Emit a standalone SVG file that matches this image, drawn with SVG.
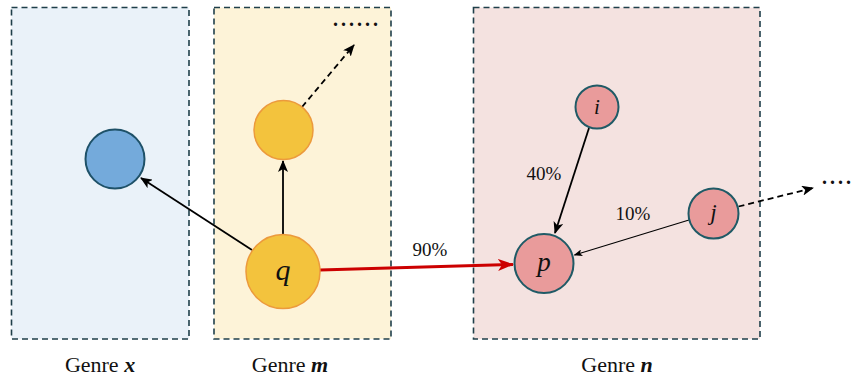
<svg xmlns="http://www.w3.org/2000/svg" width="856" height="379" viewBox="0 0 856 379">
<style>
.box{stroke:#1f3f4a;stroke-width:1.6;stroke-dasharray:6 4}
.t{font-family:"Liberation Serif","DejaVu Serif",serif;fill:#111}
.lab{font-size:22px;text-anchor:middle}
.pct{font-size:19px;text-anchor:middle}
.var{font-style:italic;text-anchor:middle}
.yel{fill:#f3c33d;stroke:#ec9a3c;stroke-width:1.5}
.pink{fill:#e99b9b;stroke:#1f5a66;stroke-width:2}
.c{stroke:#000;fill:none;stroke-width:1.8}
.dots{font-size:20px;letter-spacing:3px;font-weight:bold}
</style>
<defs>
<marker id="ah" viewBox="0 0 12 10" refX="11" refY="5" markerWidth="12" markerHeight="10" markerUnits="userSpaceOnUse" orient="auto">
<path d="M0,0 L12,5 L0,10 L3,5 Z" fill="#000"/>
</marker>
<marker id="ahs" viewBox="0 0 10 8" refX="9" refY="4" markerWidth="9" markerHeight="7" markerUnits="userSpaceOnUse" orient="auto">
<path d="M0,0 L10,4 L0,8 L2.5,4 Z" fill="#000"/>
</marker>
<marker id="ahr" viewBox="0 0 16 12" refX="15" refY="6" markerWidth="16" markerHeight="12" markerUnits="userSpaceOnUse" orient="auto">
<path d="M0,0 L16,6 L0,12 L4,6 Z" fill="#cc0000"/>
</marker>
</defs>
<g id="genre-x">
<rect class="box" x="11.5" y="7.5" width="177.5" height="331.5" fill="#eaf2f9"/>
<text class="t lab" x="100" y="372">Genre <tspan font-style="italic" font-weight="bold">x</tspan></text>
</g>
<g id="genre-m">
<rect class="box" x="214" y="7.5" width="177" height="331.5" fill="#fdf3d8"/>
<text class="t lab" x="290" y="372">Genre <tspan font-style="italic" font-weight="bold">m</tspan></text>
</g>
<g id="genre-n">
<rect class="box" x="473.5" y="7.5" width="286.5" height="331.5" fill="#f4e2e0"/>
<text class="t lab" x="617" y="372">Genre <tspan font-style="italic" font-weight="bold">n</tspan></text>
</g>
<g id="connectors">
<line class="c" x1="252" y1="250" x2="141" y2="178" marker-end="url(#ah)"/>
<line class="c" x1="283" y1="234" x2="283" y2="161" marker-end="url(#ah)"/>
<line class="c" x1="302" y1="107" x2="354" y2="45" stroke-dasharray="6 4" marker-end="url(#ah)"/>
<line x1="320" y1="270" x2="513" y2="264.5" stroke="#cc0000" stroke-width="3" marker-end="url(#ahr)"/>
<line class="c" x1="589" y1="128" x2="555" y2="233" marker-end="url(#ah)"/>
<line x1="689" y1="220" x2="574.5" y2="255" stroke="#000" stroke-width="1.1" marker-end="url(#ahs)"/>
<line class="c" x1="738.5" y1="206.5" x2="813" y2="188" stroke-dasharray="6 4" marker-end="url(#ah)"/>
<text class="t pct" x="430" y="256">90%</text>
<text class="t pct" x="544" y="180">40%</text>
<text class="t pct" x="633" y="220">10%</text>
</g>
<g id="node-blue">
<circle cx="115" cy="159" r="29.5" fill="#74aadb" stroke="#1e5168" stroke-width="2"/>
</g>
<g id="node-yellow">
<circle class="yel" cx="283.5" cy="130" r="29.5"/>
</g>
<g id="node-q">
<circle class="yel" cx="283" cy="271.5" r="37"/>
<text class="t var" x="283" y="280" font-size="30">q</text>
</g>
<g id="node-i">
<circle class="pink" cx="597" cy="107" r="21.5"/>
<text class="t var" x="597" y="114" font-size="21">i</text>
</g>
<g id="node-p">
<circle class="pink" cx="544" cy="263.5" r="29.5"/>
<text class="t var" x="544" y="271" font-size="27">p</text>
</g>
<g id="node-j">
<circle class="pink" cx="713.5" cy="213.5" r="25"/>
<text class="t var" x="713.5" y="220" font-size="23">j</text>
</g>
<g id="dots">
<text class="t dots" x="333" y="26">......</text>
<text class="t dots" x="822" y="184">....</text>
</g>
</svg>
